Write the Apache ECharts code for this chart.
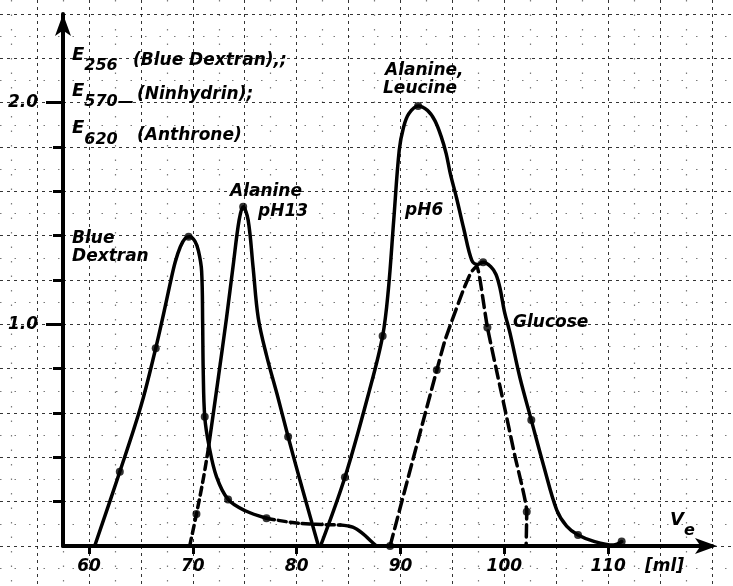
<!DOCTYPE html>
<html>
<head>
<meta charset="utf-8">
<script src="https://cdn.jsdelivr.net/npm/echarts@6/dist/echarts.min.js"></script>
<style>
  html, body { margin: 0; padding: 0; background: #fff; }
  #chart { width: 733px; height: 586px; }
</style>
</head>
<body>
<div id="chart"></div>
<script>
// elution volume Ve [ml] vs extinction E
const blueDextran = [[60.55, 0], [62.97, 0.335], [65.0, 0.63], [66.43, 0.892], [67.2, 1.05], [67.8, 1.18], [68.3, 1.28],
  [68.8, 1.35], [69.3, 1.39], [69.7, 1.395], [70.2, 1.375], [70.55, 1.33], [70.85, 1.24], [70.95, 1.0], [71.0, 0.8],
  [71.15, 0.583], [71.57, 0.45], [72.28, 0.313], [73.4, 0.21], [75.0, 0.16], [77.1, 0.125]]
const blueDextranTail = [[77.1, 0.125], [80.3, 0.102], [84.2, 0.095]]
const blueDextranEnd = [[84.2, 0.095], [85.4, 0.085], [86.4, 0.055], [87.2, 0.02], [87.7, 0]]
const alanine13Start = [[69.7, 0], [70.35, 0.144], [71.0, 0.3], [71.5, 0.44]]
const alanine13 = [[71.5, 0.44], [72.4, 0.74], [73.25, 1.03], [73.9, 1.27], [74.46, 1.47], [74.85, 1.53],
  [75.33, 1.47], [75.8, 1.26], [76.3, 1.03], [77.1, 0.86], [78.2, 0.67], [79.18, 0.493], [80.3, 0.3], [81.44, 0.11], [82.1, 0]]
const alanine6 = [[82.3, 0], [84.65, 0.31], [87.0, 0.7], [88.28, 0.947], [88.83, 1.155], [89.35, 1.47], [89.88, 1.786],
  [90.3, 1.89], [90.8, 1.95], [91.7, 1.985], [92.6, 1.965], [93.3, 1.92], [93.9, 1.85], [94.4, 1.77], [94.8, 1.68],
  [95.4, 1.57], [96.1, 1.43], [96.86, 1.29], [97.4, 1.27], [97.96, 1.28], [98.7, 1.26], [99.2, 1.225], [99.6, 1.16],
  [100.0, 1.06], [100.55, 0.96], [101.5, 0.76], [102.6, 0.568], [103.8, 0.36], [105.05, 0.162], [106.0, 0.09],
  [107.1, 0.05], [108.7, 0.02], [110.5, 0.004], [111.3, 0.02]]
const glucose = [[89.0, 0], [91.2, 0.39], [93.5, 0.794], [94.3, 0.93], [96.05, 1.155], [96.8, 1.235], [97.35, 1.262],
  [97.7, 1.19], [98.37, 0.986], [100.0, 0.63], [101.0, 0.41], [102.16, 0.155], [102.1, 0]]

// measured points
const blueDextranPts = [[62.97, 0.335], [66.43, 0.892], [69.6, 1.395], [71.15, 0.583], [73.4, 0.21], [77.1, 0.125]]
const alanine13Pts = [[70.35, 0.144], [74.85, 1.53], [79.18, 0.493]]
const alanine6Pts = [[84.65, 0.31], [88.28, 0.947], [91.7, 1.985], [102.6, 0.568], [107.1, 0.05], [111.3, 0.02]]
const glucosePts = [[89.0, 0], [93.5, 0.794], [97.96, 1.28], [98.37, 0.986], [102.16, 0.155]]

const xTicks = [60, 70, 80, 90, 100, 110]
const yTicks = [0.2, 0.4, 0.6, 0.8, 1.2, 1.4, 1.6, 1.8]
const yLabelTicks = [1.0, 2.0]
const paperX = [55, 60, 65, 70, 75, 80, 85, 90, 95, 100, 105, 110, 115, 120]
const paperY = [0, 0.2, 0.4, 0.6, 0.8, 1.0, 1.2, 1.4, 1.6, 1.8, 2.0, 2.2, 2.4]
const paperMinorX = [52.5, 57.5, 62.5, 67.5, 72.5, 77.5, 82.5, 87.5, 92.5, 97.5, 102.5, 107.5, 112.5, 117.5]
const paperMinorY = [-0.1, 0.1, 0.3, 0.5, 0.7, 0.9, 1.1, 1.3, 1.5, 1.7, 1.9, 2.1, 2.3]

// text notes: [Ve, E, text]
const notes = [
  [58.37, 2.19, '{e|E}{s|256}'],
  [64.24, 2.188, '(Blue Dextran),;'],
  [58.37, 2.028, '{e|E}{s|570—}'],
  [64.63, 2.035, '(Ninhydrin);'],
  [58.37, 1.859, '{e|E}{s|620}'],
  [64.63, 1.851, '(Anthrone)'],
  [58.37, 1.347, 'Blue\nDextran'],
  [73.58, 1.597, 'Alanine'],
  [76.28, 1.507, 'pH13'],
  [88.51, 2.147, 'Alanine,'],
  [88.32, 2.062, 'Leucine'],
  [90.44, 1.511, 'pH6'],
  [100.84, 1.01, 'Glucose'],
  [115.96, 0.0925, '{e|V}{s|e}'],
  [113.55, -0.0947, '[ml]']
]

const font = { fontFamily: 'DejaVu Sans', fontStyle: 'italic', fontWeight: 'bold', color: '#000' }
const paperLine = { show: true, lineStyle: { color: '#111', width: 1, type: [3, 4], opacity: 0.85 } }
const paperMinor = { show: true, lineStyle: { color: '#222', width: 1.2, type: [1.5, 13], opacity: 0.6 } }

function curve(data, dashed, smooth) {
  return {
    type: 'line', xAxisIndex: 0, yAxisIndex: 0, data, smooth: smooth || 0.35, symbol: 'none', z: 5,
    lineStyle: { color: '#000', width: 3.5, type: dashed ? dashed : 'solid', cap: 'round', join: 'round' }
  }
}
function dots(data) {
  return { type: 'scatter', xAxisIndex: 0, yAxisIndex: 0, data, symbolSize: 8, itemStyle: { color: '#000' }, z: 6 }
}
function paperAxis(grid, min, max, values, split) {
  return {
    gridIndex: grid, type: 'value', min, max,
    axisLine: { show: false }, axisLabel: { show: false },
    axisTick: { show: false, customValues: values },
    splitLine: split
  }
}

const chart = echarts.init(document.getElementById('chart'))
chart.setOption({
  animation: false,
  backgroundColor: '#fff',
  grid: [
    { left: 63, right: 21, top: 14, bottom: 40 },
    { left: 0, right: 0, top: 0, bottom: 0 },
    { left: 0, right: 0, top: 0, bottom: 0 }
  ],
  xAxis: [
    {
      gridIndex: 0, type: 'value', min: 57.5, max: 120,
      axisLine: { show: true, onZero: false, symbol: ['none', 'arrow'], symbolSize: [12, 22], symbolOffset: [0, 5],
        lineStyle: { color: '#000', width: 4 } },
      axisTick: { show: true, customValues: xTicks, length: 8, lineStyle: { color: '#000', width: 3 } },
      axisLabel: { show: true, customValues: xTicks, margin: 12, fontSize: 17, ...font },
      splitLine: { show: false }
    },
    paperAxis(1, 51.433, 122.022, paperX, paperLine),
    paperAxis(2, 51.433, 122.022, paperMinorX, paperMinor)
  ],
  yAxis: [
    {
      gridIndex: 0, type: 'value', min: 0, max: 2.4,
      axisLine: { show: true, onZero: false, symbol: ['none', 'arrow'], symbolSize: [12, 22], symbolOffset: [0, 0],
        lineStyle: { color: '#000', width: 4 } },
      axisTick: { show: true, customValues: yTicks, length: 10, lineStyle: { color: '#000', width: 3 } },
      axisLabel: { show: false },
      splitLine: { show: false }
    },
    paperAxis(1, -0.18045, 2.46316, paperY, paperLine),
    paperAxis(2, -0.18045, 2.46316, paperMinorY, paperMinor),
    {
      gridIndex: 0, type: 'value', min: 0, max: 2.4, position: 'left',
      axisLine: { show: false },
      axisTick: { show: true, customValues: yLabelTicks, length: 17, lineStyle: { color: '#000', width: 3 } },
      axisLabel: { show: true, customValues: yLabelTicks, margin: 25, fontSize: 17, ...font,
        formatter: v => v.toFixed(1) },
      splitLine: { show: false }
    }
  ],
  series: [
    curve(blueDextran),
    curve(blueDextranTail, [8, 4]),
    curve(blueDextranEnd),
    curve(alanine13Start, [8, 5]),
    curve(alanine13),
    curve(alanine6),
    curve(glucose, [12, 6], 0.15),
    dots(blueDextranPts),
    dots(alanine13Pts),
    dots(alanine6Pts),
    dots(glucosePts),
    {
      type: 'scatter', xAxisIndex: 1, yAxisIndex: 1, symbolSize: 0, z: 7,
      data: notes.map(n => ({ value: [n[0], n[1]], text: n[2] })),
      label: {
        show: true, position: 'right', distance: 0, fontSize: 17, lineHeight: 18, ...font,
        textBorderWidth: 0, opacity: 1,
        formatter: p => p.data.text,
        rich: {
          e: { fontSize: 18, padding: [0, 0, 11, 0], ...font },
          s: { fontSize: 16, padding: [11, 0, 0, 0], ...font }
        }
      }
    }
  ]
})
</script>
</body>
</html>
